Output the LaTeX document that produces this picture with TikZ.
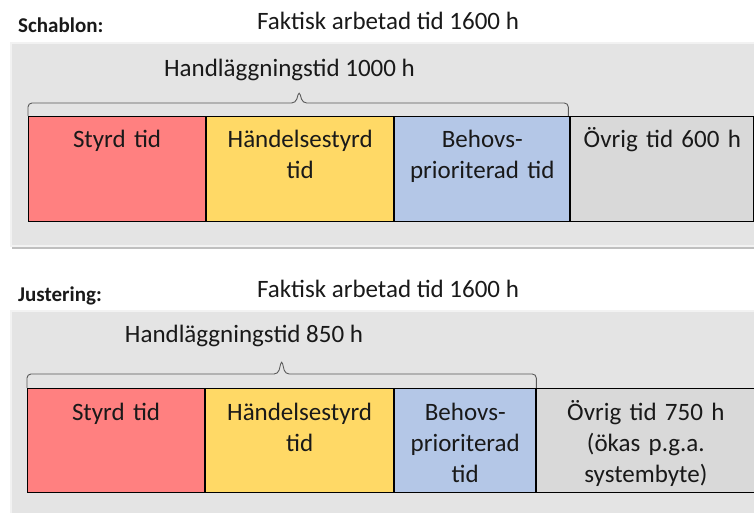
\documentclass[tikz,border=0pt]{standalone}
\usepackage{fontspec}
\setmainfont{Carlito}
\definecolor{styrdred}{RGB}{255,128,128}
\definecolor{handyellow}{RGB}{255,217,102}
\definecolor{behovblue}{RGB}{180,199,231}
\definecolor{ovriggray}{RGB}{217,217,217}
\definecolor{panelgray}{RGB}{228,228,228}
\definecolor{bracegray}{RGB}{89,89,89}
\usetikzlibrary{positioning,shadows,calc}

\begin{document}
\begin{tikzpicture}[x=1pt,y=1pt,
    every node/.style={font=\fontsize{25}{31}\selectfont,text=black!90},
    panel/.style={fill=panelgray,draw=black!5,line width=2pt,drop shadow={shadow xshift=1pt,shadow yshift=-3pt,opacity=.5}},
    tidbox/.style={draw=black,line width=1.1pt,inner sep=0pt,text width=#1,align=center,text height=31pt,text depth=74pt},
    head/.style={font=\fontsize{21}{24}\selectfont\bfseries,anchor=base west,inner sep=0pt},
    hbrace/.style={draw=bracegray,line width=.9pt,rounded corners=4pt},
    node distance=0pt
    ]
    \useasboundingbox (0,0) rectangle (754,513);

    % the panels
    \path[panel] (11,267) rectangle (762,470);
    \path[panel] (11,-10) rectangle (762,202);

    % schablon
    \node (sh) [head] at (18,480) {Schablon:};
    \node (sft) [anchor=base] at (388,483) {Faktisk arbetad tid 1600 h};
    \node (sht) [anchor=base] at (289.5,436) {Handläggningstid 1000 h};
    \node (s1) [tidbox=177pt,fill=styrdred,anchor=north west] at (28,397) {Styrd tid};
    \node (s2) [tidbox=187pt,fill=handyellow,right=of s1] {Händelsestyrd\\tid};
    \node (s3) [tidbox=175pt,fill=behovblue,right=of s2] {Behovs-\\prioriterad tid};
    \node (s4) [tidbox=183pt,fill=ovriggray,right=of s3] {Övrig tid 600 h};

    % justering
    \node (jh) [head] at (18,211) {Justering:};
    \node (jft) [anchor=base] at (388,215) {Faktisk arbetad tid 1600 h};
    \node (jht) [anchor=base] at (244,170) {Handläggningstid 850 h};
    \node (j1) [tidbox=177pt,fill=styrdred,text height=32pt,text depth=72pt,anchor=north west] at (27,125) {Styrd tid};
    \node (j2) [tidbox=188pt,fill=handyellow,text height=32pt,text depth=72pt,right=of j1] {Händelsestyrd\\tid};
    \node (j3) [tidbox=141pt,fill=behovblue,text height=32pt,text depth=72pt,right=of j2] {Behovs-\\prioriterad\\tid};
    \node (j4) [tidbox=218pt,fill=ovriggray,text height=32pt,text depth=72pt,right=of j3] {Övrig tid 750 h\\(ökas p.g.a.\\systembyte)};

    % the braces
    \draw[hbrace] (s1.north west) |- ($(s1.north west)!.5!(s3.north east)+(-3.5,13)$)
        -- ++(3.5,12) -- ++(3.5,-12) -| ([xshift=-2pt]s3.north east);
    \draw[hbrace] (j1.north west) |- ($(j1.north west)!.5!(j3.north east)+(-3.5,14)$)
        -- ++(3.5,14) -- ++(3.5,-14) -| (j3.north east);
\end{tikzpicture}
\end{document}
